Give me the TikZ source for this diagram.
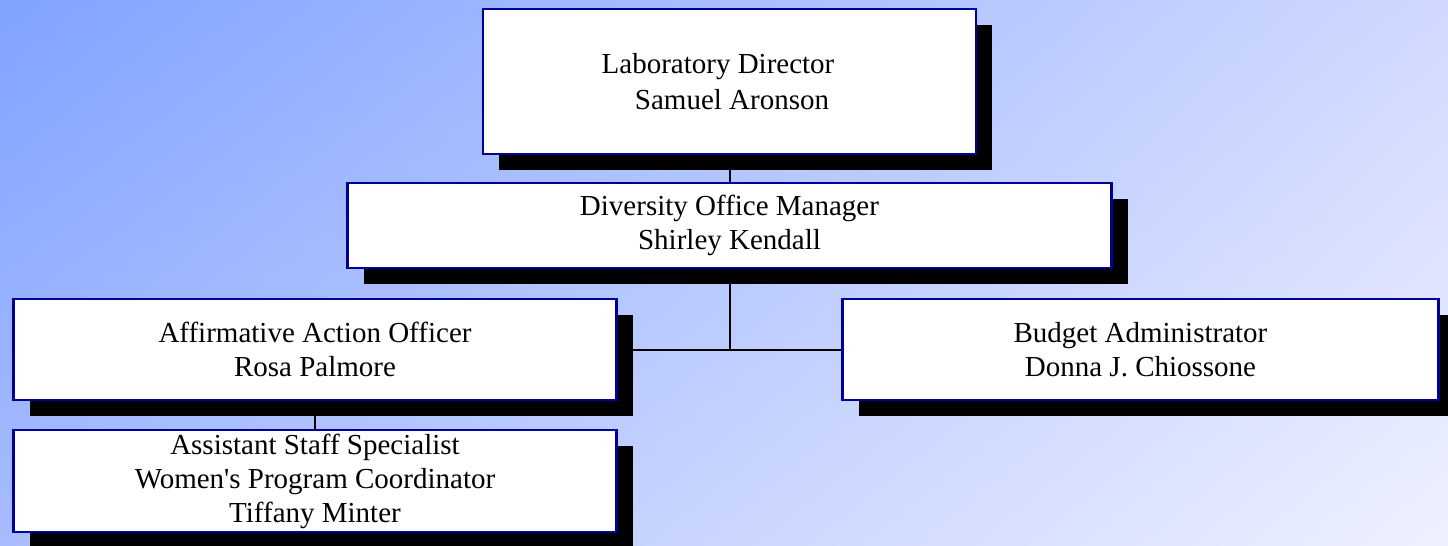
\documentclass[tikz,border=0pt]{standalone}
\usepackage{fontspec}
\setmainfont{Liberation Serif}
\usepackage{tikz}
\usetikzlibrary{positioning}
\usetikzlibrary{shadows,shadings}

\definecolor{bgul}{RGB}{127,163,255}
\definecolor{bgur}{RGB}{208,216,255}
\definecolor{bgll}{RGB}{168,188,255}
\definecolor{bglr}{RGB}{238,241,255}
\definecolor{boxline}{RGB}{0,0,153}

\begin{document}
\begin{tikzpicture}[x=1pt,y=-1pt,on grid,
    box/.style={draw=boxline,line width=2.5pt,fill=white,inner sep=0pt,align=center,
      font=\fontsize{29}{34}\selectfont,
      drop shadow={shadow xshift=16pt,shadow yshift=-16pt,fill=black,opacity=1}},
    lowtext/.style={execute at begin node=\rule{0pt}{26pt}},
    link/.style={line width=2pt}]
     \useasboundingbox (0,0) rectangle (1448,546);
     \shade[upper left=bgul,upper right=bgur,lower left=bgll,lower right=bglr]
       (0,0) rectangle (1448,546);

     \node[box, minimum width=493pt, minimum height=145pt,
       font=\fontsize{29}{36}\selectfont] (b_dir) at (729.5,81.5)
       {Laboratory Director\hspace*{23pt}\\ \hspace*{5pt}Samuel Aronson};
      \node[box, lowtext, minimum width=764pt, minimum height=85pt] (b_div)
       [below =144pt of b_dir] {Diversity Office Manager\\ Shirley Kendall};
      \node[box, lowtext, minimum width=603pt, minimum height=101pt] (b_aff)
       [below left =124pt and 414.5pt of b_div] {Affirmative Action Officer\\ Rosa Palmore};
      \node[box, lowtext, minimum width=596pt, minimum height=101pt] (b_bud)
       [below right =124pt and 411pt of b_div] {Budget Administrator\\ Donna J. Chiossone};
      \node[box, lowtext, minimum width=603pt, minimum height=102pt] (b_asst)
       [below =131.5pt of b_aff] {Assistant Staff Specialist\\ Women\textquotesingle s Program Coordinator\\ Tiffany Minter};

      \path[link]
      (b_dir) edge (b_div)
      (b_aff.east) edge (b_bud.west)
      (b_aff) edge (b_asst)
      ;
      \draw[link] (b_div.south) -- (b_div.south |- b_aff.east);
  \end{tikzpicture}
\end{document}
